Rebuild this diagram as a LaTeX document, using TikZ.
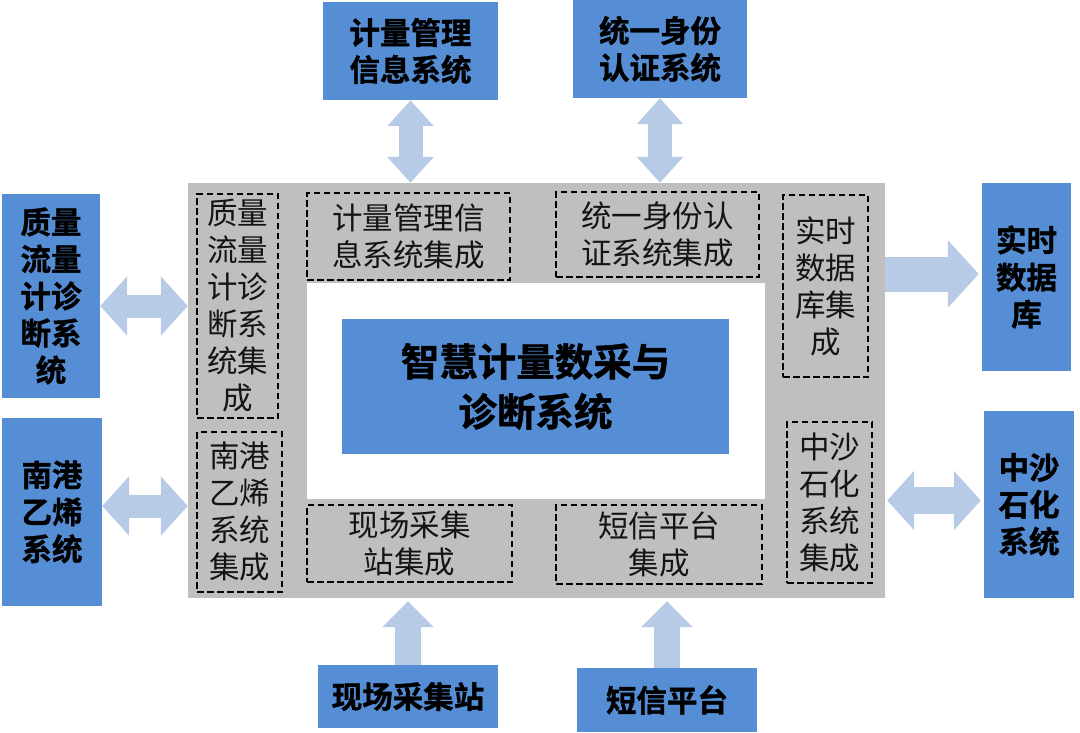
\documentclass[tikz,border=0pt]{standalone}
\usepackage{fontspec}
\setmainfont{Noto Sans CJK SC}
\newfontfamily\heavyfont[FakeBold=1.2]{Noto Sans CJK SC Bold}
\usetikzlibrary{arrows.meta}
\definecolor{boxblue}{HTML}{558ED5}
\definecolor{bggray}{HTML}{BFBFBF}
\definecolor{arrblue}{HTML}{B7CBE6}
\definecolor{txtdark}{HTML}{141414}
\tikzset{
  outerbox/.style={fill=boxblue, draw=none, inner sep=0pt, align=center,
    font=\fontsize{30.5}{37}\selectfont\heavyfont, text=black},
  dashbox/.style={draw=black, dash pattern=on 6.5pt off 3.5pt, line width=1.8pt,
    inner sep=0pt, align=center, font=\fontsize{30.5}{37}\selectfont, text=txtdark},
  thickarr/.style={draw=arrblue, line width=#1}
}
\begin{document}
\begin{tikzpicture}[x=1pt, y=-1pt]
\useasboundingbox (0,0) rectangle (1080,732);
% main frame
\node[fill=bggray, inner sep=0pt, minimum width=697pt, minimum height=415pt] (gray) at (536.5,390.5) {};
\node[fill=white, inner sep=0pt, minimum width=458pt, minimum height=216pt] (white) at (536,391) {};
\node[fill=boxblue, inner sep=0pt, minimum width=387pt, minimum height=135pt, align=center,
  font=\fontsize{38.5}{50}\selectfont\heavyfont] (core) at (535.5,386.5) {智慧计量数采与\\诊断系统};
% dashed integration boxes
\node[dashbox, minimum width=81pt, minimum height=224pt] (d1) at (237.5,306) {质量\\流量\\计诊\\断系\\统集\\成};
\node[dashbox, minimum width=85pt, minimum height=160pt] (d2) at (239.5,512) {南港\\乙烯\\系统\\集成};
\node[dashbox, minimum width=203pt, minimum height=87pt] (d3) at (408.5,236.5) {计量管理信\\息系统集成};
\node[dashbox, minimum width=203pt, minimum height=85pt] (d4) at (657.5,234.5) {统一身份认\\证系统集成};
\node[dashbox, minimum width=85pt, minimum height=182pt] (d5) at (825.5,286) {实时\\数据\\库集\\成};
\node[dashbox, minimum width=85pt, minimum height=161pt] (d6) at (829.5,502.5) {中沙\\石化\\系统\\集成};
\node[dashbox, minimum width=205pt, minimum height=77pt] (d7) at (409.5,543.5) {现场采集\\站集成};
\node[dashbox, minimum width=206pt, minimum height=79pt] (d8) at (659,544.5) {短信平台\\集成};
% outer systems
\node[outerbox, minimum width=175pt, minimum height=98pt] (b1) at (410.5,51) {计量管理\\信息系统};
\node[outerbox, minimum width=174pt, minimum height=98pt] (b2) at (660,49) {统一身份\\认证系统};
\node[outerbox, minimum width=98pt, minimum height=204pt] (b3) at (51,296) {质量\\流量\\计诊\\断系\\统};
\node[outerbox, minimum width=100pt, minimum height=188pt] (b4) at (52,512) {南港\\乙烯\\系统};
\node[outerbox, minimum width=89pt, minimum height=188pt] (b5) at (1026.5,277) {实时\\数据\\库};
\node[outerbox, minimum width=90pt, minimum height=187pt] (b6) at (1029,504.5) {中沙\\石化\\系统};
\node[outerbox, minimum width=180pt, minimum height=63pt] (b7) at (408,696.5) {现场采集站};
\node[outerbox, minimum width=180pt, minimum height=64pt] (b8) at (667,700) {短信平台};
% connectors
\draw[thickarr=24pt, {Triangle[length=26pt, width=45pt]}-{Triangle[length=26pt, width=45pt]}]
  (b1.south) -- (b1.south |- gray.north);
\draw[thickarr=24pt, {Triangle[length=26pt, width=45pt]}-{Triangle[length=26pt, width=45pt]}]
  (b2.south) -- (b2.south |- gray.north);
\draw[thickarr=23pt, {Triangle[length=27pt, width=58pt]}-{Triangle[length=27pt, width=58pt]}]
  (b3.east |- d1.west) -- (gray.west |- d1.west);
\coordinate (a4s) at ([yshift=6pt]b4.east);
\draw[thickarr=23pt, {Triangle[length=27pt, width=58pt]}-{Triangle[length=27pt, width=58pt]}]
  (a4s) -- (gray.west |- a4s);
\coordinate (a5e) at ([xshift=-3pt,yshift=3pt]b5.west);
\draw[thickarr=35pt, -{Triangle[length=31pt, width=66pt]}]
  (gray.east |- a5e) -- (a5e);
\coordinate (a6e) at ([xshift=-3pt,yshift=4pt]b6.west);
\draw[thickarr=27pt, {Triangle[length=27pt, width=58pt]}-{Triangle[length=27pt, width=58pt]}]
  ([xshift=2pt]gray.east |- a6e) -- (a6e);
\draw[thickarr=26pt, -{Triangle[length=26pt, width=50pt]}]
  (b7.north) -- ([yshift=-3pt]b7.north |- gray.south);
\draw[thickarr=26pt, -{Triangle[length=26pt, width=50pt]}]
  (b8.north) -- ([yshift=-3pt]b8.north |- gray.south);
\end{tikzpicture}
\end{document}
